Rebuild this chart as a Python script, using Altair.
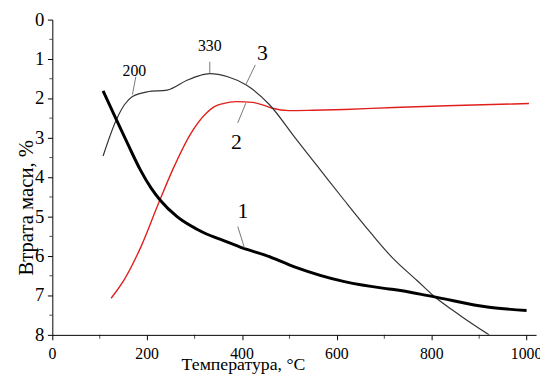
import altair as alt
import pandas as pd

# Curve 1 (thick black)
c1_x = [107, 135, 160, 185, 208, 228, 263, 305, 325, 360, 402, 450, 512, 616, 700, 720, 803, 921, 1000]
c1_y = [1.81, 2.54, 3.18, 3.80, 4.27, 4.59, 5.0, 5.32, 5.44, 5.6, 5.80, 5.98, 6.28, 6.65, 6.82, 6.85, 7.03, 7.30, 7.38]
# Curve 2 (red)
c2_x = [124, 152, 187, 221, 256, 291, 325, 340, 360, 388, 422, 445, 464, 499, 550, 616, 720, 850, 1005]
c2_y = [7.07, 6.59, 5.76, 4.75, 3.75, 2.91, 2.37, 2.22, 2.13, 2.08, 2.10, 2.17, 2.25, 2.31, 2.30, 2.28, 2.23, 2.18, 2.13]
# Curve 3 (thin black)
c3_x = [107, 135, 152, 169, 201, 242, 284, 310, 332, 370, 409, 458, 512, 561, 616, 672, 720, 769, 803, 859, 921]
c3_y = [3.46, 2.54, 2.16, 1.95, 1.83, 1.79, 1.54, 1.42, 1.37, 1.45, 1.66, 2.16, 3.0, 3.75, 4.59, 5.42, 6.08, 6.62, 7.0, 7.5, 8.0]

# Annotations
lab_text = ["1", "2", "3", "330", "200"]
lab_x = [402, 388, 443, 332, 173]
lab_y = [4.87, 3.10, 0.86, 0.67, 1.30]
lab_size = [22, 22, 22, 16, 16]
lead_x = [391, 391, 408, 332, 176]
lead_y = [5.25, 2.62, 1.65, 1.07, 1.45]
lead_x2 = [405, 408, 428, 332, 169]
lead_y2 = [5.79, 2.12, 1.15, 1.37, 1.90]

# Axis ticks and labels
x_major = [0, 200, 400, 600, 800, 1000]
x_minor = [100, 300, 500, 700, 900]
y_major = [0, 1, 2, 3, 4, 5, 6, 7, 8]
y_minor = [0.5, 1.5, 2.5, 3.5, 4.5, 5.5, 6.5, 7.5]
x_title = "Температура, °C"
y_title = "Втрата маси, %"

FONT = "Liberation Serif"

df = pd.concat([
    pd.DataFrame({"t": c1_x, "m": c1_y, "s": "1"}),
    pd.DataFrame({"t": c2_x, "m": c2_y, "s": "2"}),
    pd.DataFrame({"t": c3_x, "m": c3_y, "s": "3"}),
])
labels = pd.DataFrame({"t": lab_x, "m": lab_y, "txt": lab_text, "size": lab_size})
leads = pd.DataFrame({"t": lead_x, "m": lead_y, "t2": lead_x2, "m2": lead_y2})

xscale = alt.Scale(domain=[0, 1020], nice=False, zero=False)
yscale = alt.Scale(domain=[0, 8], reverse=True, nice=False)

xaxis = alt.Axis(
    values=x_major, labels=False, title=None,
    grid=False, domainColor="black", tickColor="black", tickSize=5,
)
yaxis = alt.Axis(
    values=y_major, labels=False, title=None,
    grid=False, domainColor="black", tickColor="black", tickSize=5,
)

X = alt.X("t:Q", scale=xscale, axis=xaxis)
Y = alt.Y("m:Q", scale=yscale, axis=yaxis)

base = alt.Chart(df)


def curve(sid, color, width):
    return base.transform_filter(alt.datum.s == sid).mark_line(
        color=color, strokeWidth=width, interpolate="monotone", clip=True
    ).encode(x=X, y=Y, order="t:Q")


l1 = curve("1", "black", 3)
l2 = curve("2", "#e0201c", 1.4)
l3 = curve("3", "#333333", 1.2)

rules = alt.Chart(leads).mark_rule(color="#777777", strokeWidth=1).encode(
    x=X, y=Y, x2="t2:Q", y2="m2:Q",
)
texts = alt.Chart(labels).mark_text(font=FONT, color="black", align="center", baseline="middle").encode(
    x=X, y=Y,
    text="txt:N", size=alt.Size("size:Q", scale=None, legend=None),
)

# minor ticks
xminor = alt.Chart(pd.DataFrame({"t": x_minor})).mark_tick(
    color="black", orient="vertical", size=4, thickness=1, clip=False, yOffset=2
).encode(x=X, y=alt.value(320))
yminor = alt.Chart(pd.DataFrame({"m": y_minor})).mark_tick(
    color="black", orient="horizontal", size=3, thickness=1, clip=False, xOffset=-1.5
).encode(y=Y, x=alt.value(0))

# tick labels (serif) placed through the scales
xlab = alt.Chart(pd.DataFrame({"t": x_major, "lab": [str(v) for v in x_major]})).mark_text(
    font=FONT, fontSize=16, color="black", align="center", baseline="alphabetic"
).encode(x=X, y=alt.value(344), text="lab:N")
ylab = alt.Chart(pd.DataFrame({"m": y_major, "lab": [str(v) for v in y_major]})).mark_text(
    font=FONT, fontSize=19, color="black", align="right", baseline="middle"
).encode(y=Y, x=alt.value(-8), text="lab:N")

# axis titles
xtit = alt.Chart(pd.DataFrame({"lab": [x_title]})).mark_text(
    font=FONT, fontSize=18, color="black", align="center", baseline="alphabetic"
).encode(x=alt.value(194), y=alt.value(356), text="lab:N")
ytit = alt.Chart(pd.DataFrame({"lab": [y_title]})).mark_text(
    font=FONT, fontSize=21, color="black", align="center", baseline="middle", angle=270
).encode(x=alt.value(-26), y=alt.value(191), text="lab:N")

chart = alt.layer(l2, l3, l1, rules, texts, xminor, yminor, xlab, ylab, xtit, ytit).properties(
    width=491, height=320,
    autosize=alt.AutoSizeParams(type="none"),
    padding={"left": 45, "top": 9, "right": 4, "bottom": 42},
).configure(
    background="white"
).configure_view(
    stroke=None
)

chart.save("out.html", embed_options={"renderer": "svg", "actions": False})
